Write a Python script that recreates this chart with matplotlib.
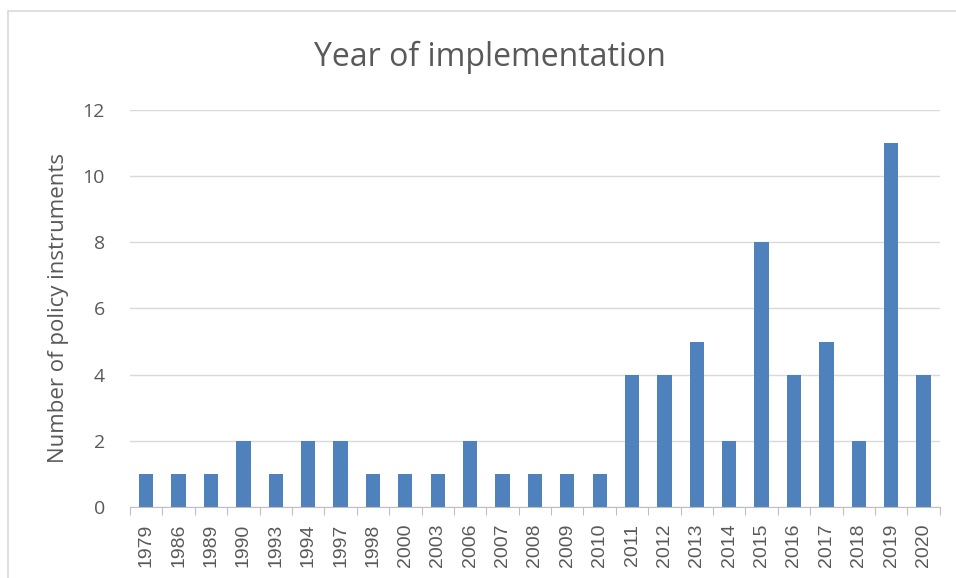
import matplotlib.pyplot as plt
from matplotlib.patches import Rectangle

years = ['1979', '1986', '1989', '1990', '1993', '1994', '1997', '1998', '2000', '2003',
         '2006', '2007', '2008', '2009', '2010', '2011', '2012', '2013', '2014', '2015',
         '2016', '2017', '2018', '2019', '2020']
counts = [1, 1, 1, 2, 1, 2, 2, 1, 1, 1,
          2, 1, 1, 1, 1, 4, 4, 5, 2, 8,
          4, 5, 2, 11, 4]

fig = plt.figure(figsize=(9.56, 5.78), dpi=100)
ax = fig.add_axes([0.136, 0.1228, 0.847, 0.687])

x = list(range(len(years)))
ax.bar(x, counts, width=0.44, color='#4F81BD', zorder=3)

ax.set_xlim(-0.5, len(years) - 0.5)
ax.set_ylim(0, 12)
ax.set_yticks(range(0, 13, 2))
ax.yaxis.grid(True, color='#D9D9D9', linewidth=1)
ax.set_axisbelow(True)

for s in ['top', 'right', 'left']:
    ax.spines[s].set_visible(False)
ax.spines['bottom'].set_color('#BFBFBF')
ax.spines['bottom'].set_zorder(4)

ax.set_xticks([i - 0.5 for i in range(len(years) + 1)], minor=False)
ax.set_xticklabels([])
ax.set_xticks(x, minor=True)
ax.set_xticklabels(years, minor=True, rotation=90, fontsize=14, color='#595959',
                   family='Liberation Sans')
ax.tick_params(axis='x', which='major', length=6, color='#BFBFBF')
ax.tick_params(axis='x', which='minor', length=0, pad=12)
ax.tick_params(axis='y', length=0, labelsize=14, labelcolor='#595959', pad=18)
for t in ax.get_yticklabels():
    t.set_family('Open Sans')

ax.set_ylabel('Number of policy instruments', fontsize=16, color='#595959',
              family='Open Sans', labelpad=10)
fig.text(0.512, 0.9, 'Year of implementation', ha='center', va='center',
         fontsize=23, color='#595959', family='Open Sans')

# рамка области диаграммы
fig.patches.append(Rectangle((0.008, -0.1), 1.1, 1.081, transform=fig.transFigure,
                             fill=False, edgecolor='#D9D9D9', linewidth=1.2))

fig.savefig('out.png', dpi=100)
